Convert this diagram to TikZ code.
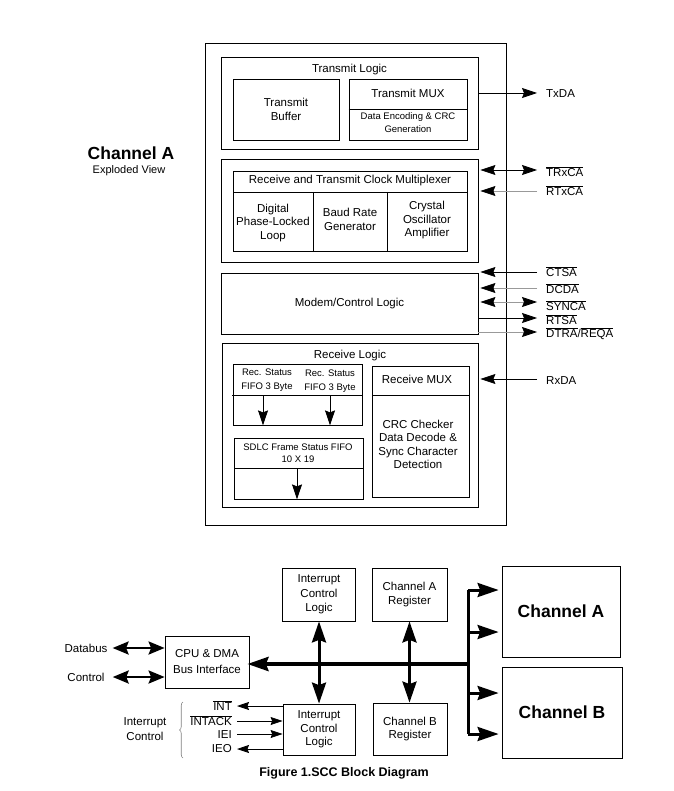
\documentclass[tikz,border=0pt]{standalone}
\usepackage{fontspec}
\setmainfont{Liberation Sans}
\usetikzlibrary{arrows.meta,decorations.pathreplacing}
\newcommand\barsig[1]{$\overline{\mbox{#1}}$}
\tikzset{
         sigtip/.tip={Stealth[length=15pt,width=10pt,inset=2pt]},
         greytip/.tip={Stealth[length=15pt,width=10pt,inset=2pt,color=black]},
         pintip/.tip={Stealth[length=12pt,width=8pt,inset=1.5pt]},
         dntip/.tip={Stealth[length=15pt,width=10pt,inset=2pt]},
         dbltip/.tip={Stealth[length=16pt,width=13pt,inset=2.5pt]},
         bigtip/.tip={Stealth[length=21pt,width=14pt,inset=2.5pt]},
         blk/.style={draw,line width=.8pt,inner sep=0pt},
         txt/.style={font=\fontsize{11.5}{13.5}\selectfont,align=center,inner sep=0pt},
         sml/.style={font=\fontsize{9.5}{13}\selectfont,align=center,inner sep=0pt},
         big/.style={font=\fontsize{17.5}{20}\selectfont\bfseries,inner sep=0pt},
         pin/.style={font=\fontsize{11.5}{13.5}\selectfont,anchor=west,inner sep=0pt},
         pinr/.style={font=\fontsize{11.5}{13.5}\selectfont,anchor=east,inner sep=0pt},
         sig/.style={line width=.8pt,-sigtip},
         sigb/.style={line width=.8pt,sigtip-sigtip},
         greysig/.style={line width=.8pt,draw=black!40,-greytip},
         greysigb/.style={line width=.8pt,draw=black!40,greytip-greytip},
         isig/.style={line width=.8pt,-pintip},
         dn/.style={line width=.8pt,-dntip},
         dbl/.style={line width=2.5pt,dbltip-dbltip},
         bus/.style={line width=4pt},
         vbus/.style={line width=3pt}
        }
\begin{document}
\begin{tikzpicture}[x=1pt,y=-1pt]
\useasboundingbox (0,0) rectangle (673,791);
%channel A exploded view
\node[blk,minimum width=301,minimum height=482] (chan) at (355.5,284) {};
\node[big] (chtitle) at (131,153) {Channel A};
\node[txt,font=\fontsize{11}{13}\selectfont] (exview) at (129,171) {Exploded View};
%transmit logic
\node[blk,minimum width=257,minimum height=92] (txlog) at (349.5,103) {};
\node[txt] (txlogt) at (349.5,70) {Transmit Logic};
\node[blk,txt,minimum width=106,minimum height=61] (txbuf) at (286,109.5) {Transmit\\Buffer};
\node[blk,minimum width=118,minimum height=61] (txmux) at (408,109.5) {};
\draw[line width=.8pt] (txmux.west) -- (txmux.east);
\node[txt] (txmuxt) at (408,93) {Transmit MUX};
\node[sml] (enc) at (408,123) {Data Encoding \& CRC\\Generation};
%clock multiplexer
\node[blk,minimum width=257,minimum height=103] (clk) at (349.5,210.5) {};
\node[blk,minimum width=234,minimum height=80] (clkmux) at (350,211) {};
\draw[line width=.8pt] (233,192) -- (468,192);
\draw[line width=.8pt] (313,192) -- (313,251);
\draw[line width=.8pt] (387,192) -- (387,251);
\node[txt] (clkmuxt) at (350,181) {Receive and Transmit Clock Multiplexer};
\node[txt] (dpll) at (273,223) {Digital\\Phase-Locked\\Loop};
\node[txt] (brg) at (350,219.5) {Baud Rate\\Generator};
\node[txt] (xtal) at (427,220.5) {Crystal\\Oscillator\\Amplifier};
%modem
\node[blk,txt,minimum width=257,minimum height=61] (modem) at (349.5,303.5) {Modem/Control Logic};
%receive logic
\node[blk,minimum width=256,minimum height=164] (rxlog) at (350,425) {};
\node[txt] (rxlogt) at (350,356) {Receive Logic};
\node[blk,minimum width=129,minimum height=61] (rsf) at (297.5,394.5) {};
\draw[line width=.8pt] (232,395) -- (362,395);
\node[sml,font=\fontsize{9.5}{14}\selectfont] (rsf1) at (267,380) {Rec. Status\\FIFO 3 Byte};
\node[sml,font=\fontsize{9.5}{14}\selectfont] (rsf2) at (330,381) {Rec. Status\\FIFO 3 Byte};
\coordinate (rs1) at (263,395);
\coordinate (rs2) at (330,395);
\draw[dn] (rs1) -- (rs1 |- rsf.south);
\draw[dn] (rs2) -- (rs2 |- rsf.south);
\node[blk,minimum width=129,minimum height=61] (sdlc) at (298.5,468.5) {};
\draw[line width=.8pt] (234,468) -- (363,468);
\node[sml,font=\fontsize{9.5}{12}\selectfont] (sdlct) at (298,453) {SDLC Frame Status FIFO\\10 X 19};
\coordinate (sd) at (297,468);
\draw[dn] (sd) -- (sd |- sdlc.south);
\node[blk,minimum width=97,minimum height=131] (rxmux) at (420.5,431.5) {};
\draw[line width=.8pt] (372,395) -- (469,395);
\node[txt] (rxmuxt) at (417,379) {Receive MUX};
\node[txt] (crc) at (418,444.5) {CRC Checker\\Data Decode \&\\Sync Character\\Detection};
%pins
\coordinate (txda) at (537,93);
\coordinate (trxc) at (537,170);
\coordinate (rtxc) at (537,191);
\coordinate (ctsa) at (537,272);
\coordinate (dcda) at (537,288);
\coordinate (synca) at (537,302);
\coordinate (rtsa) at (537,318);
\coordinate (dtra) at (537,332);
\coordinate (rxda) at (537,379);
\node[pin] (txdal) at (546,94) {TxDA};
\node[pin] (trxcl) at (546,172) {\barsig{TRxCA}};
\node[pin] (rtxcl) at (546,191) {\barsig{RTxCA}};
\node[pin] (ctsal) at (546,272) {\barsig{CTSA}};
\node[pin] (dcdal) at (546,289) {\barsig{DCDA}};
\node[pin] (syncal) at (546,306) {\barsig{SYNCA}};
\node[pin] (rtsal) at (546,320) {\barsig{RTSA}};
\node[pin] (dtral) at (546,334) {\barsig{DTRA}/\barsig{REQA}};
\node[pin] (rxdal) at (546,381) {RxDA};
\draw[sig] (txlog.east |- txda) -- (txda);
\draw[sigb,shorten <=2pt] (clk.east |- trxc) -- (trxc);
\draw[greysig,shorten >=2pt] (rtxc) -- (clk.east |- rtxc);
\draw[sig,shorten >=2pt] (ctsa) -- (modem.east |- ctsa);
\draw[greysig,shorten >=2pt] (dcda) -- (modem.east |- dcda);
\draw[greysigb,shorten <=2pt] (modem.east |- synca) -- (synca);
\draw[sig] (modem.east |- rtsa) -- (rtsa);
\draw[greysig] (modem.east |- dtra) -- (dtra);
\draw[sig,shorten >=2pt] (rxda) -- (rxlog.east |- rxda);
%scc block diagram
\node[blk,txt,minimum width=73,minimum height=53,font=\fontsize{11.5}{14.5}\selectfont] (icl1) at (319,594.5) {Interrupt\\Control\\Logic};
\node[blk,txt,minimum width=75,minimum height=53] (chareg) at (409.5,594.5) {Channel A\\Register};
\node[blk,big,minimum width=118,minimum height=91] (cha) at (561,611.5) {Channel A};
\node[blk,big,minimum width=120,minimum height=91] (chb) at (562,712.5) {Channel B};
\node[blk,txt,minimum width=74,minimum height=52] (chbreg) at (410,729) {Channel B\\Register};
\node[blk,txt,minimum width=72,minimum height=51] (icl2) at (319,729.5) {Interrupt\\Control\\Logic};
\node[blk,txt,minimum width=84,minimum height=52,font=\fontsize{11.5}{16}\selectfont] (cpu) at (207,662) {CPU \& DMA\\Bus Interface};
%bus
\coordinate (bj) at (468,664);
\coordinate (bt) at (468,590);
\coordinate (b2) at (468,632);
\coordinate (b3) at (468,693);
\coordinate (bb) at (468,734);
\draw[bus,-bigtip,shorten >=-2pt] (bj) -- (cpu.east |- bj);
\draw[vbus] (bt) -- (bb);
\draw[vbus,-bigtip,shorten >=3pt] (bt) -- (cha.west |- bt);
\draw[vbus,-bigtip,shorten >=3pt] (b2) -- (cha.west |- b2);
\draw[vbus,-bigtip,shorten >=3pt] (b3) -- (chb.west |- b3);
\draw[vbus,-bigtip,shorten >=3pt] (bb) -- (chb.west |- bb);
\draw[vbus,bigtip-bigtip] (icl1.south) -- (icl2.north);
\draw[vbus,bigtip-bigtip] (chareg.south) -- (chareg.south |- chbreg.north);
%databus and control
\node[txt] (dbus) at (86,648) {Databus};
\node[txt] (ctrl) at (86,677) {Control};
\draw[dbl,shorten <=5pt] (dbus.east) -- (cpu.west |- dbus);
\draw[dbl,shorten <=8pt] (ctrl.east) -- (cpu.west |- ctrl);
%interrupt pins
\node[pinr] (int) at (232,706) {\barsig{INT}};
\node[pinr] (intack) at (232,721) {\barsig{INTACK}};
\node[pinr] (iei) at (232,735) {IEI};
\node[pinr] (ieo) at (232,749) {IEO};
\draw[isig,shorten >=5pt] (icl2.west |- 0,706) -- (int.east |- 0,706);
\draw[isig,shorten <=5pt] (intack.east |- 0,721) -- (icl2.west |- 0,721);
\draw[isig,shorten <=5pt] (iei.east |- 0,734) -- (icl2.west |- 0,734);
\draw[isig,shorten >=5pt] (icl2.west |- 0,749) -- (ieo.east |- 0,749);
\node[txt,font=\fontsize{11.5}{15}\selectfont] (irq) at (145,729.5) {Interrupt\\Control};
\draw[black!50,line width=.6pt,decorate,decoration={brace,amplitude=3.5pt}] (183,758) -- (183,702);
%caption
\node[txt,font=\fontsize{12.5}{14}\selectfont\bfseries] (cap) at (344,773) {Figure 1.SCC Block Diagram};
\end{tikzpicture}
\end{document}
